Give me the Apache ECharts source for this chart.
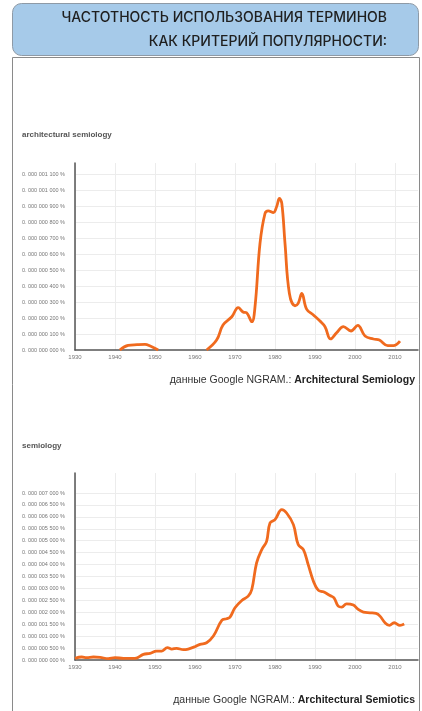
<!DOCTYPE html>
<html>
<head>
<meta charset="utf-8">
<script src="https://cdn.jsdelivr.net/npm/echarts@6/dist/echarts.min.js"></script>
<style>
html,body{margin:0;padding:0;background:#fff;}
#c{width:422px;height:711px;}
</style>
</head>
<body>
<div id="c"></div>
<script>
// Values are in units of 0.000 000 001 %
const titleLines = ['ЧАСТОТНОСТЬ ИСПОЛЬЗОВАНИЯ ТЕРМИНОВ', 'КАК КРИТЕРИЙ ПОПУЛЯРНОСТИ:'];
const chartTitles = ['architectural semiology', 'semiology'];
const captionPrefix = 'данные Google NGRAM.: ';
const captionNames = ['Architectural Semiology', 'Architectural Semiotics'];

const archYears = [1941.2,1943.3,1945.5,1947.5,1948.8,1950.8,1956,1962.9,1965.4,1967,1969.2,1970.8,1972,1972.9,1974.2,1975,1976.25,1977.5,1978.3,1979.6,1980.4,1981.1,1981.7,1982.5,1983.6,1985,1985.8,1986.7,1987.9,1989.6,1991.25,1992.5,1993.9,1995.4,1997.1,1999,2000.7,2002.5,2004.6,2006.1,2008.2,2009.6,2011.25];
const archValues = [0,29,33,35,25,0,null,0,62,156,208,265,238,233,177,270,667,854,871,860,896,948,917,667,354,277,292,354,256,219,181,146,69,108,146,119,154,88,69,62,27,27,56];

const semYears = [1930,1931.7,1932.9,1934.6,1936.25,1938.3,1940,1942.1,1945,1947.1,1948.75,1950.4,1951.7,1953.1,1954.2,1955.4,1957.1,1958.3,1960,1961.25,1962.9,1964.6,1966.7,1967.9,1968.75,1970,1971.7,1973.3,1974.2,1975.4,1976.7,1977.9,1978.75,1980,1981.7,1982.9,1984.6,1985.8,1987.1,1988.3,1989.6,1990.8,1992.1,1993.75,1994.75,1995.8,1996.7,1997.9,1999.6,2000.8,2002.1,2003.75,2005.25,2006.25,2007.5,2008.6,2009.8,2011.25,2012.3];
const semValues = [70,125,98,125,112,56,98,70,70,237,279,376,376,516,460,488,432,460,558,655,725,1004,1659,1729,1799,2189,2496,2677,2956,4071,4629,4977,5744,5883,6302,6163,5675,4838,4629,4001,3304,2928,2858,2705,2607,2259,2217,2357,2301,2119,2008,1980,1952,1840,1562,1450,1562,1450,1506];

const yearTicksMin = 1930, yearTicksMax = 2015.75, yearStep = 10;
const archMax = 1170, archStep = 100, archTopLabel = 1100;
const semMax = 7840, semStep = 500, semTopLabel = 7000;

function fmtY(v){
  const s = String(Math.round(v)).padStart(9,'0');
  return '0. ' + s.slice(0,3) + ' ' + s.slice(3,6) + ' ' + s.slice(6) + ' %';
}
const pair = (xs, ys) => xs.map((x,i)=>[x, ys[i]]);
const GRID = '#ececec';

const chart = echarts.init(document.getElementById('c'), null, {renderer:'canvas'});
const grids = [
  {left:75, right:4, top:163, height:187},
  {left:75, right:4, top:473, height:187}
];
const xAxisBase = i => ({
  type:'value', gridIndex:i, min:yearTicksMin, max:yearTicksMax, interval:yearStep,
  axisLine:{show:true, onZero:false, lineStyle:{color:'#555', width:1.5}},
  axisTick:{show:false},
  axisLabel:{color:'#777', fontSize:6, fontFamily:'Liberation Sans', margin:4, showMaxLabel:false, formatter:v=>String(v)},
  splitLine:{show:true, showMaxLine:false, lineStyle:{color:GRID, width:1}}
});
const yAxisBase = (i, max, step, topLabel) => {
  // colour list for split lines above 0: visible up to topLabel, hidden beyond
  const n = Math.floor(max / step);
  const colors = [];
  for (let k = 1; k <= n; k++) colors.push(k * step <= topLabel ? GRID : 'rgba(0,0,0,0)');
  return {
    type:'value', gridIndex:i, min:0, max:max, interval:step,
    axisLine:{show:true, lineStyle:{color:'#555', width:1.5}},
    axisTick:{show:false},
    axisLabel:{color:'#777', fontSize:5.5, fontFamily:'Liberation Sans', margin:10, showMaxLabel:false,
      formatter:v => v > topLabel ? '' : fmtY(v)},
    splitLine:{show:true, showMinLine:false, showMaxLine:false, lineStyle:{color:colors, width:1}}
  };
};
const lineSeries = (i, data) => ({
  type:'line', xAxisIndex:i, yAxisIndex:i, data:data, smooth:0.4, showSymbol:false,
  connectNulls:false, lineStyle:{color:'#f06a1e', width:2.8}, itemStyle:{color:'#f06a1e'}, z:5
});

chart.setOption({
  animation:false,
  grid: grids,
  xAxis: [xAxisBase(0), xAxisBase(1)],
  yAxis: [yAxisBase(0, archMax, archStep, archTopLabel), yAxisBase(1, semMax, semStep, semTopLabel)],
  series: [lineSeries(0, pair(archYears, archValues)), lineSeries(1, pair(semYears, semValues))],
  graphic: [
    {type:'rect', left:12, top:57, shape:{width:407, height:670}, style:{fill:'#fff', stroke:'#8a8a8a', lineWidth:1}, z:-10},
    {type:'rect', left:12, top:3, shape:{width:406, height:52, r:9}, style:{fill:'#a6cae9', stroke:'#8e9aa6', lineWidth:1}, z:-5},
    {type:'text', right:35, top:11, style:{text:titleLines[0], fill:'#1f1f1f', font:'500 14px Inter', textAlign:'right'}},
    {type:'text', right:35, top:35, style:{text:titleLines[1], fill:'#1f1f1f', font:'500 14px Inter', textAlign:'right'}},
    {type:'text', left:22, top:131, style:{text:chartTitles[0], fill:'#555', font:'bold 8px Liberation Sans'}},
    {type:'text', left:22, top:442, style:{text:chartTitles[1], fill:'#555', font:'bold 8px Liberation Sans'}},
    {type:'text', right:7, top:375, style:{
      text:'{a|'+captionPrefix+'}{b|'+captionNames[0]+'}',
      rich:{a:{fill:'#333', fontSize:10.5, fontFamily:'Liberation Sans'}, b:{fill:'#222', fontSize:10.5, fontWeight:'bold', fontFamily:'Liberation Sans'}}
    }},
    {type:'text', right:7, top:695, style:{
      text:'{a|'+captionPrefix+'}{b|'+captionNames[1]+'}',
      rich:{a:{fill:'#333', fontSize:10.5, fontFamily:'Liberation Sans'}, b:{fill:'#222', fontSize:10.5, fontWeight:'bold', fontFamily:'Liberation Sans'}}
    }}
  ]
});
</script>
</body>
</html>
